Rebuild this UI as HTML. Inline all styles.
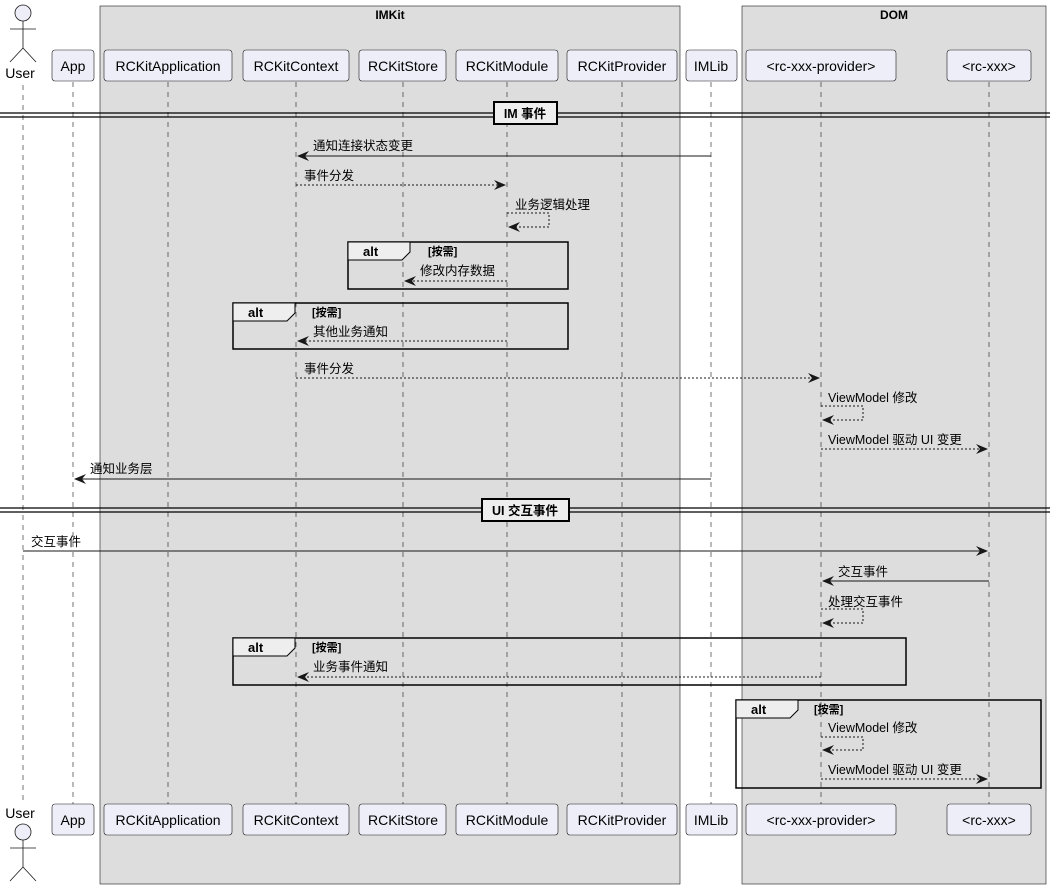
<!DOCTYPE html>
<html><head><meta charset="utf-8"><style>
html,body{margin:0;padding:0;background:#fff;}
svg{display:block;font-family:"Liberation Sans","Noto Sans CJK SC",sans-serif;}
.p{fill:#eeeef8;stroke:#181818;stroke-width:0.6;}
.pt{font-size:14px;fill:#000;text-anchor:middle;}
.ll{stroke:#181818;stroke-width:0.6;stroke-dasharray:5,5;}
.m{font-size:12.5px;fill:#000;}
.s{stroke:#181818;stroke-width:1;fill:none;}
.d{stroke:#181818;stroke-width:1;fill:none;stroke-dasharray:2,2;}
.ah{fill:#181818;}
.alt{fill:none;stroke:#000;stroke-width:1.5;}
.tab{fill:#eee;stroke:#000;stroke-width:1;}
.at{font-size:13px;font-weight:bold;}
.g{font-size:11px;font-weight:bold;}
</style></head><body>
<svg width="1057" height="889" viewBox="0 0 1057 889" xmlns="http://www.w3.org/2000/svg">
<!-- boxes -->
<rect x="100" y="6" width="580" height="878" fill="#dddddd" stroke="#181818" stroke-width="0.6"/>
<text x="390" y="19" text-anchor="middle" font-size="12" font-weight="bold">IMKit</text>
<rect x="742" y="6" width="304" height="878" fill="#dddddd" stroke="#181818" stroke-width="0.6"/>
<text x="894" y="19" text-anchor="middle" font-size="12" font-weight="bold">DOM</text>

<!-- lifelines -->
<g class="ll">
<line x1="23" y1="85" x2="23" y2="800"/>
<line x1="73" y1="82" x2="73" y2="804"/>
<line x1="168" y1="82" x2="168" y2="804"/>
<line x1="296" y1="82" x2="296" y2="804"/>
<line x1="403" y1="82" x2="403" y2="804"/>
<line x1="507" y1="82" x2="507" y2="804"/>
<line x1="622" y1="82" x2="622" y2="804"/>
<line x1="711" y1="82" x2="711" y2="804"/>
<line x1="821" y1="82" x2="821" y2="804"/>
<line x1="989" y1="82" x2="989" y2="804"/>
</g>

<!-- participants top & bottom -->
<g>
<rect class="p" x="52" y="50" width="42" height="31" rx="3"/>
<rect class="p" x="104" y="50" width="128" height="31" rx="3"/>
<rect class="p" x="243" y="50" width="106" height="31" rx="3"/>
<rect class="p" x="359" y="50" width="87" height="31" rx="3"/>
<rect class="p" x="456" y="50" width="102" height="31" rx="3"/>
<rect class="p" x="567" y="50" width="110" height="31" rx="3"/>
<rect class="p" x="686" y="50" width="51" height="31" rx="3"/>
<rect class="p" x="746" y="50" width="150" height="31" rx="3"/>
<rect class="p" x="947" y="50" width="84" height="31" rx="3"/>
<text class="pt" x="73" y="71">App</text>
<text class="pt" x="168" y="71">RCKitApplication</text>
<text class="pt" x="296" y="71">RCKitContext</text>
<text class="pt" x="403" y="71">RCKitStore</text>
<text class="pt" x="507" y="71">RCKitModule</text>
<text class="pt" x="622" y="71">RCKitProvider</text>
<text class="pt" x="711" y="71">IMLib</text>
<text class="pt" x="821" y="71">&lt;rc-xxx-provider&gt;</text>
<text class="pt" x="989" y="71">&lt;rc-xxx&gt;</text>
</g>
<g transform="translate(0,754)">
<rect class="p" x="52" y="50" width="42" height="31" rx="3"/>
<rect class="p" x="104" y="50" width="128" height="31" rx="3"/>
<rect class="p" x="243" y="50" width="106" height="31" rx="3"/>
<rect class="p" x="359" y="50" width="87" height="31" rx="3"/>
<rect class="p" x="456" y="50" width="102" height="31" rx="3"/>
<rect class="p" x="567" y="50" width="110" height="31" rx="3"/>
<rect class="p" x="686" y="50" width="51" height="31" rx="3"/>
<rect class="p" x="746" y="50" width="150" height="31" rx="3"/>
<rect class="p" x="947" y="50" width="84" height="31" rx="3"/>
<text class="pt" x="73" y="71">App</text>
<text class="pt" x="168" y="71">RCKitApplication</text>
<text class="pt" x="296" y="71">RCKitContext</text>
<text class="pt" x="403" y="71">RCKitStore</text>
<text class="pt" x="507" y="71">RCKitModule</text>
<text class="pt" x="622" y="71">RCKitProvider</text>
<text class="pt" x="711" y="71">IMLib</text>
<text class="pt" x="821" y="71">&lt;rc-xxx-provider&gt;</text>
<text class="pt" x="989" y="71">&lt;rc-xxx&gt;</text>
</g>

<!-- actors -->
<g stroke="#181818" stroke-width="0.8" fill="none">
<circle cx="23" cy="13" r="8" fill="#eeeef8"/>
<line x1="23" y1="21" x2="23" y2="48"/><line x1="10" y1="29" x2="36" y2="29"/>
<line x1="23" y1="48" x2="10" y2="62"/><line x1="23" y1="48" x2="36" y2="62"/>
<circle cx="23" cy="832" r="8" fill="#eeeef8"/>
<line x1="23" y1="840" x2="23" y2="867"/><line x1="10" y1="848" x2="36" y2="848"/>
<line x1="23" y1="867" x2="10" y2="881"/><line x1="23" y1="867" x2="36" y2="881"/>
</g>
<text class="pt" x="20" y="78">User</text>
<text class="pt" x="20" y="818">User</text>

<!-- dividers -->
<g stroke="#000" stroke-width="1.2">
<line x1="0" y1="113" x2="1050" y2="113"/><line x1="0" y1="117" x2="1050" y2="117"/>
<line x1="0" y1="508" x2="1050" y2="508"/><line x1="0" y1="512" x2="1050" y2="512"/>
</g>
<rect x="494" y="102" width="63" height="22" fill="#eee" stroke="#000" stroke-width="2"/>
<text x="525" y="118" text-anchor="middle" font-size="12.5" font-weight="bold">IM 事件</text>
<rect x="482" y="499" width="87" height="22" fill="#eee" stroke="#000" stroke-width="2"/>
<text x="525" y="515" text-anchor="middle" font-size="12.5" font-weight="bold">UI 交互事件</text>

<!-- alt frames -->
<rect class="alt" x="348" y="242" width="220" height="47"/>
<path class="tab" d="M348,242 H410 V252 L402,260 H348 Z"/>
<text class="at" x="363" y="256">alt</text><text class="g" x="428" y="255">[按需]</text>

<rect class="alt" x="233" y="303" width="335" height="46"/>
<path class="tab" d="M233,303 H295 V313 L287,321 H233 Z"/>
<text class="at" x="248" y="317">alt</text><text class="g" x="312" y="316">[按需]</text>

<rect class="alt" x="233" y="638" width="673" height="47"/>
<path class="tab" d="M233,638 H295 V648 L287,656 H233 Z"/>
<text class="at" x="248" y="652">alt</text><text class="g" x="312" y="651">[按需]</text>

<rect class="alt" x="736" y="700" width="305" height="88"/>
<path class="tab" d="M736,700 H798 V710 L790,718 H736 Z"/>
<text class="at" x="751" y="714">alt</text><text class="g" x="814" y="713">[按需]</text>

<!-- messages -->
<line class="s" x1="711" y1="156" x2="298" y2="156"/>
<polygon class="ah" points="297,156 309,151 305,156 309,161"/>
<text class="m" x="313" y="150">通知连接状态变更</text>

<line class="d" x1="296" y1="185" x2="505" y2="185"/>
<polygon class="ah" points="506,185 494,180 498,185 494,190"/>
<text class="m" x="304" y="180">事件分发</text>

<polyline class="d" points="507,213 549,213 549,227 509,227"/>
<polygon class="ah" points="508,227 520,222 516,227 520,232"/>
<text class="m" x="515" y="209">业务逻辑处理</text>

<line class="d" x1="507" y1="281" x2="405" y2="281"/>
<polygon class="ah" points="404,281 416,276 412,281 416,286"/>
<text class="m" x="420" y="275">修改内存数据</text>

<line class="d" x1="507" y1="341" x2="298" y2="341"/>
<polygon class="ah" points="297,341 309,336 305,341 309,346"/>
<text class="m" x="313" y="336">其他业务通知</text>

<line class="d" x1="296" y1="378" x2="819" y2="378"/>
<polygon class="ah" points="820,378 808,373 812,378 808,383"/>
<text class="m" x="304" y="373">事件分发</text>

<polyline class="d" points="821,406 863,406 863,420 823,420"/>
<polygon class="ah" points="822,420 834,415 830,420 834,425"/>
<text class="m" x="828" y="402">ViewModel 修改</text>

<line class="d" x1="821" y1="449" x2="987" y2="449"/>
<polygon class="ah" points="988,449 976,444 980,449 976,454"/>
<text class="m" x="828" y="444">ViewModel 驱动 UI 变更</text>

<line class="s" x1="711" y1="479" x2="75" y2="479"/>
<polygon class="ah" points="74,479 86,474 82,479 86,484"/>
<text class="m" x="90" y="473">通知业务层</text>

<line class="s" x1="23" y1="551" x2="987" y2="551"/>
<polygon class="ah" points="988,551 976,546 980,551 976,556"/>
<text class="m" x="31" y="546">交互事件</text>

<line class="s" x1="989" y1="581" x2="823" y2="581"/>
<polygon class="ah" points="822,581 834,576 830,581 834,586"/>
<text class="m" x="838" y="576">交互事件</text>

<polyline class="d" points="821,609 863,609 863,623 823,623"/>
<polygon class="ah" points="822,623 834,618 830,623 834,628"/>
<text class="m" x="828" y="606">处理交互事件</text>

<line class="d" x1="821" y1="677" x2="298" y2="677"/>
<polygon class="ah" points="297,677 309,672 305,677 309,682"/>
<text class="m" x="313" y="671">业务事件通知</text>

<polyline class="d" points="821,737 863,737 863,750 823,750"/>
<polygon class="ah" points="822,750 834,745 830,750 834,755"/>
<text class="m" x="828" y="732">ViewModel 修改</text>

<line class="d" x1="821" y1="779" x2="987" y2="779"/>
<polygon class="ah" points="988,779 976,774 980,779 976,784"/>
<text class="m" x="828" y="774">ViewModel 驱动 UI 变更</text>
</svg>
</body></html>
